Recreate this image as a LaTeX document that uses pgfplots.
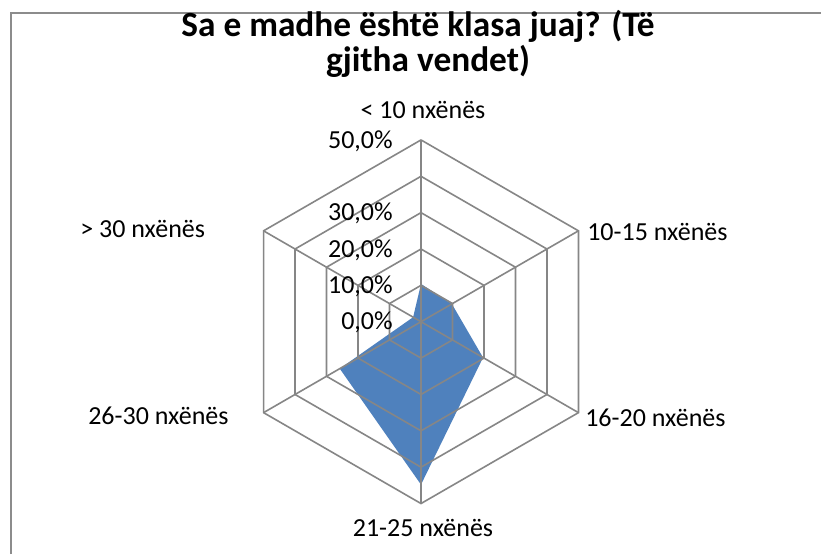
\documentclass[border=0pt]{standalone}
\usepackage{pgfplots}
\pgfplotsset{compat=1.18}
\usepgfplotslibrary{polar}
\usepackage{fontspec}
\setmainfont{Carlito}
\definecolor{fillblue}{HTML}{4F81BD}
\definecolor{gridgray}{HTML}{868686}
\definecolor{framegray}{HTML}{8C8C8C}
\begin{document}
\begin{tikzpicture}
\path[use as bounding box, fill=white] (0,0) rectangle (615.75pt,-415.5pt);
\draw[framegray, line width=1.5pt] (8.25pt,-415.5pt) -- (8.25pt,-9.75pt) -- (615.75pt,-9.75pt);
\begin{polaraxis}[
  at={(315.75pt,-241.3pt)}, anchor=center,
  scale only axis, width=272.7pt, height=272.7pt,
  ymin=0, ymax=50, xmin=0, xmax=360,
  hide axis, clip=false,
]
% data (percent)
\addplot[draw=none, fill=fillblue] coordinates {(90,10.4) (30,9.8) (330,19.7) (270,44.8) (210,25.8) (150,2.5) (90,10.4)};
% hexagonal grid
\addplot[gridgray, line width=1.2pt] coordinates {(90,10) (30,10) (330,10) (270,10) (210,10) (150,10) (90,10)};
\addplot[gridgray, line width=1.2pt] coordinates {(90,20) (30,20) (330,20) (270,20) (210,20) (150,20) (90,20)};
\addplot[gridgray, line width=1.2pt] coordinates {(90,30) (30,30) (330,30) (270,30) (210,30) (150,30) (90,30)};
\addplot[gridgray, line width=1.2pt] coordinates {(90,40) (30,40) (330,40) (270,40) (210,40) (150,40) (90,40)};
\addplot[gridgray, line width=1.2pt] coordinates {(90,50) (30,50) (330,50) (270,50) (210,50) (150,50) (90,50)};
\addplot[gridgray, line width=1.2pt] coordinates {(90,50) (270,50)};
\addplot[gridgray, line width=1.2pt] coordinates {(30,50) (210,50)};
\addplot[gridgray, line width=1.2pt] coordinates {(150,50) (330,50)};
\end{polaraxis}
\begin{scope}[x=0.75pt, y=-0.75pt, every node/.style={inner sep=0pt, font=\fontsize{19.5}{23}\selectfont}]
\node[anchor=base, font=\fontsize{26.5}{31}\selectfont\bfseries] at (418,36) {Sa e madhe është klasa juaj? (Të};
\node[anchor=base, font=\fontsize{26.5}{31}\selectfont\bfseries] at (428,71) {gjitha vendet)};
\node[anchor=center] at (423,110) {< 10 nxënës};
\node[anchor=west] at (587,232) {10-15 nxënës};
\node[anchor=west] at (585,418) {16-20 nxënës};
\node[anchor=center] at (423,528) {21-25 nxënës};
\node[anchor=west] at (88,416) {26-30 nxënës};
\node[anchor=west] at (80,229) {> 30 nxënës};
\node[anchor=base east] at (393,148) {50,0\%};
\node[anchor=base east] at (393,220.6) {30,0\%};
\node[anchor=base east] at (393,257) {20,0\%};
\node[anchor=base east] at (393,293.3) {10,0\%};
\node[anchor=base east] at (393,329.7) {0,0\%};
\end{scope}
\end{tikzpicture}
\end{document}
